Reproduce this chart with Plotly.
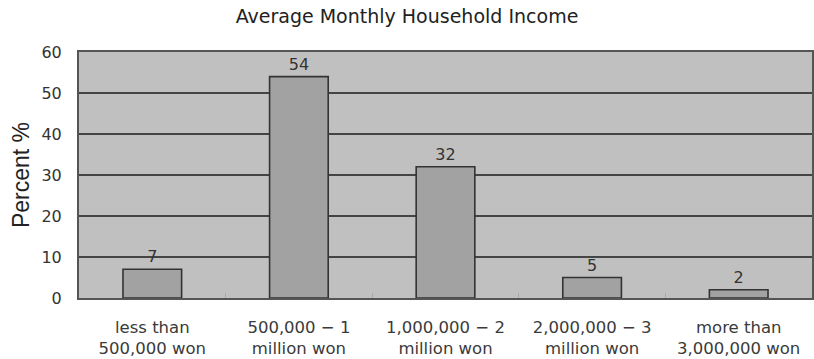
import plotly.graph_objects as go

categories = ["less than<br>500,000 won", "500,000 − 1<br>million won", "1,000,000 − 2<br>million won",
              "2,000,000 − 3<br>million won", "more than<br>3,000,000 won"]
values = [7, 54, 32, 5, 2]
y_ticks = [0, 10, 20, 30, 40, 50, 60]

FONT = "DejaVu Sans, Verdana, sans-serif"

fig = go.Figure(go.Bar(
    x=categories, y=values, width=0.4,
    marker=dict(color="#a2a2a2", line=dict(color="#333333", width=1.6)),
    text=[str(v) for v in values], textposition="outside",
    textfont=dict(size=16, color="#333333", family=FONT),
    cliponaxis=False,
))

fig.update_layout(
    width=814, height=359,
    margin=dict(l=79, r=0, t=52, b=61),
    paper_bgcolor="white", plot_bgcolor="#c0c0c0",
    font=dict(family=FONT, color="#333333"),
    title=dict(text="Average Monthly Household Income", x=0.5, xanchor="center", y=0.955, yanchor="middle",
               font=dict(size=19, color="#222222", family=FONT)),
    showlegend=False, bargap=0.6,
)
fig.update_yaxes(range=[0, 60], tickvals=y_ticks, showgrid=True, gridcolor="#444444", gridwidth=1.6,
                 showline=True, linecolor="#555555", linewidth=2, mirror=True, zeroline=False,
                 tickfont=dict(size=16, color="#333333"), ticks="", ticklabelstandoff=12,
                 title=dict(text="Percent %", font=dict(size=23, color="#222222",
                                                        family="Liberation Sans, Arial, sans-serif"),
                            standoff=5))
fig.update_xaxes(showline=True, linecolor="#555555", linewidth=2, mirror=True, showgrid=False,
                 ticks="inside", tickson="boundaries", ticklen=5, tickwidth=1, tickcolor="#a8a8a8",
                 tickfont=dict(size=16.5, color="#3a3a3a"), ticklabelstandoff=13)

fig.write_html("out.html")
